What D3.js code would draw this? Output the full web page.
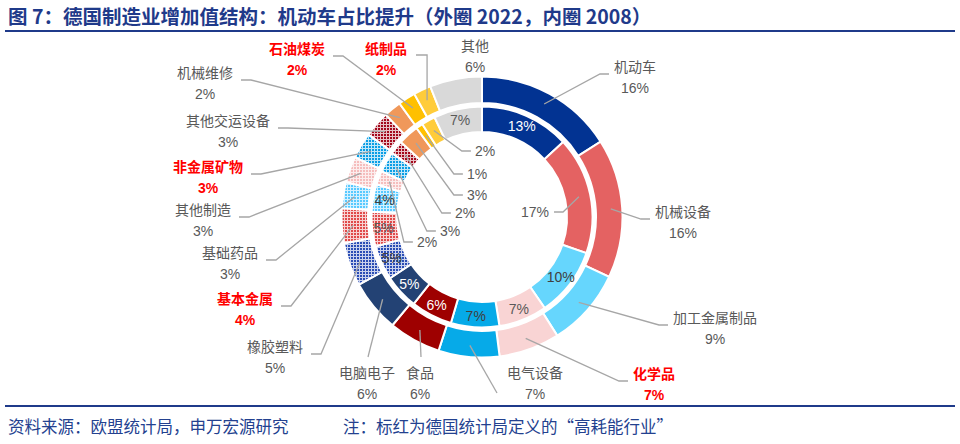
<!DOCTYPE html>
<html><head><meta charset="utf-8">
<script src="https://cdn.jsdelivr.net/npm/d3@7/dist/d3.min.js"></script>
<style>
html,body{margin:0;padding:0;background:#fff;}
svg{display:block;}
</style></head>
<body>
<svg id="chart" width="960" height="444"></svg>
<script>
// ---------- DATA ----------
const categories = ["机动车","机械设备","加工金属制品","化学品","电气设备","食品","电脑电子","橡胶塑料","基本金属","基础药品","其他制造","非金属矿物","其他交运设备","机械维修","石油煤炭","纸制品","其他"];
const outer2022 = [16,16,9,7,7,6,6,5,4,3,3,3,3,2,2,2,6];
const inner2008 = [13,17,10,7,7,6,5,5,5,4,2,3,2,3,1,2,7];
const highEnergy = ["化学品","基本金属","非金属矿物","石油煤炭","纸制品"];
const titleText = "图 7：德国制造业增加值结构：机动车占比提升（外圈 2022，内圈 2008）";
const sourceText = "资料来源：欧盟统计局，申万宏源研究";
const noteText = "注：标红为德国统计局定义的“高耗能行业”";

// ---------- STYLES ----------
const colors = {"机动车":"#023392","机械设备":"#E46262","加工金属制品":"#66D6FD","化学品":"#F9D4D4","电气设备":"#06AAE8","食品":"#9E0000","电脑电子":"#234274","橡胶塑料":"#2A4DB5","基本金属":"#E04A4A","基础药品":"#58C9FF","其他制造":"#F5BDBD","非金属矿物":"#0A9EE5","其他交运设备":"#A3081C","机械维修":"#F0985A","石油煤炭":"#FFC000","纸制品":"#FFCC3A","其他":"#D9D9D9"};
const textured = ["橡胶塑料","基本金属","基础药品","其他制造","非金属矿物","其他交运设备"];
// outer label layout: [x, y(center of name line), leader style]
const outerLayout = {"机动车":[635,67,"R"],"机械设备":[683,212,"R"],"加工金属制品":[715,318,"R"],"化学品":[654,374,"R"],
 "电气设备":[535,373,"DL"],"食品":[420,373,"UP"],"电脑电子":[367,373,"UP"],"橡胶塑料":[275,347,"L"],"基本金属":[245,299,"L"],
 "基础药品":[230,253,"L"],"其他制造":[203,210,"L"],"非金属矿物":[208,167,"L"],"其他交运设备":[228,121,"L"],"机械维修":[205,73,"L"],
 "石油煤炭":[297,49,"L"],"纸制品":[386,49,"V"],"其他":[475,46,"N"]};
// inner labels placed outside with leader: [x,y]
const innerLeaderLayout = {"机械设备":[535,212,"L"],"其他制造":[427,242,"R"],"非金属矿物":[450,231,"R"],"其他交运设备":[465,213,"R"],"机械维修":[477,195,"R"],"石油煤炭":[477,174,"R"],"纸制品":[485,151,"R"]};
const innerTextColor = {"机动车":"#ffffff","加工金属制品":"#404040","化学品":"#595959","电气设备":"#404040","食品":"#ffffff","电脑电子":"#ffffff","橡胶塑料":"#404040","基本金属":"#595959","基础药品":"#404040","其他":"#595959"};

const W=960,H=444,cx=482,cy=217;
const FONT = "'Liberation Sans','Noto Sans CJK SC',sans-serif";
const svg = d3.select("#chart");
const defs = svg.append("defs");

// patterns
textured.forEach((c,i)=>{
  const p = defs.append("pattern").attr("id","pat"+i).attr("patternUnits","userSpaceOnUse")
    .attr("width",3).attr("height",3);
  p.append("rect").attr("width",3).attr("height",3).attr("fill",colors[c]);
  p.append("rect").attr("x",0).attr("y",0).attr("width",3).attr("height",1).attr("fill","#fff").attr("opacity",0.75);
  p.append("rect").attr("x",0).attr("y",1).attr("width",1).attr("height",2).attr("fill","#fff").attr("opacity",0.75);
});
function fillOf(c){const i=textured.indexOf(c);return i>=0?`url(#pat${i})`:colors[c];}

// title
svg.append("text").attr("x",8).attr("y",24).attr("font-family","'Noto Sans CJK SC',sans-serif")
  .attr("font-weight","bold").attr("font-size",19.5).attr("fill","#1F3A8A").text(titleText);
svg.append("rect").attr("x",5).attr("y",30).attr("width",950).attr("height",2).attr("fill","#1F3A8A");
svg.append("rect").attr("x",5).attr("y",405).attr("width",950).attr("height",2).attr("fill","#1F3A8A");
svg.append("text").attr("x",8).attr("y",433).attr("font-family","'Noto Sans CJK SC',sans-serif")
  .attr("font-size",16.5).attr("fill","#23418F").text(sourceText);
svg.append("text").attr("x",343).attr("y",433).attr("font-family","'Noto Sans CJK SC',sans-serif")
  .attr("font-size",16.5).attr("fill","#23418F").text(noteText);

const pie = d3.pie().sort(null).value(d=>d.v);
const outerData = pie(categories.map((c,i)=>({c,v:outer2022[i]})));
const innerData = pie(categories.map((c,i)=>({c,v:inner2008[i]})));
const arcOuter = d3.arc().innerRadius(114).outerRadius(140.5);
const arcInner = d3.arc().innerRadius(85).outerRadius(110.5);
const g = svg.append("g").attr("transform",`translate(${cx},${cy})`);
g.selectAll("path.o").data(outerData).join("path").attr("class","o").attr("d",arcOuter)
  .attr("fill",d=>fillOf(d.data.c)).attr("stroke","#fff").attr("stroke-width",2);
g.selectAll("path.i").data(innerData).join("path").attr("class","i").attr("d",arcInner)
  .attr("fill",d=>fillOf(d.data.c)).attr("stroke","#fff").attr("stroke-width",2);

function pt(d,r){const a=(d.startAngle+d.endAngle)/2;return [cx+r*Math.sin(a),cy-r*Math.cos(a)];}
const lines = svg.append("g").attr("fill","none").attr("stroke","#A6A6A6").attr("stroke-width",1.3);
const labels = svg.append("g").attr("font-family",FONT).attr("font-size",14).attr("text-anchor","middle");

// outer labels
outerData.forEach((d,i)=>{
  const c=d.data.c, L=outerLayout[c], hot=highEnergy.includes(c);
  const col = hot?"#FF0000":"#595959", fw = hot?"bold":"normal";
  const t1 = labels.append("text").attr("x",L[0]).attr("y",L[1]).attr("dy","0.35em").attr("fill",col).attr("font-weight",fw).text(c);
  labels.append("text").attr("x",L[0]).attr("y",L[1]+21).attr("dy","0.35em").attr("fill",col).attr("font-weight",fw).text(d.data.v+"%");
  const w = t1.node().getComputedTextLength();
  const a = pt(d,129);
  let p=null;
  if(L[2]==="R"){const ex=L[0]-w/2-5, y=L[1]+7; p=[a,[ex-9,y],[ex,y]];}
  else if(L[2]==="L"){const ex=L[0]+w/2+8, y=L[1]+7; p=[a,[ex+10,y],[ex,y]];}
  else if(L[2]==="UP"){p=[a,[L[0]+1,L[1]-16]];}
  else if(L[2]==="DL"){p=[a,[L[0]-w/2-10,L[1]+20]];}
  else if(L[2]==="V"){const ex=L[0]+w/2+9, y=L[1]+6; p=[[ex,y],[a[0],y],a];}
  if(p) lines.append("path").attr("d",d3.line()(p));
});

// inner labels
innerData.forEach((d,i)=>{
  const c=d.data.c;
  if(innerLeaderLayout[c]){
    const L=innerLeaderLayout[c];
    const t=labels.append("text").attr("x",L[0]).attr("y",L[1]).attr("dy","0.35em").attr("fill","#595959").text(d.data.v+"%");
    const w=t.node().getComputedTextLength();
    const a=pt(d,99);
    let p;
    if(L[2]==="R"){const ex=L[0]-w/2-4; p=[a,[ex-9,L[1]],[ex,L[1]]];}
    else {const ex=L[0]+w/2+5; p=[a,[ex+9,L[1]],[ex,L[1]]];}
    lines.append("path").attr("d",d3.line()(p));
  } else {
    const q=pt(d,99);
    labels.append("text").attr("x",q[0]).attr("y",q[1]).attr("dy","0.35em").attr("fill",innerTextColor[c]||"#595959").text(d.data.v+"%");
  }
});
</script>
</body></html>
